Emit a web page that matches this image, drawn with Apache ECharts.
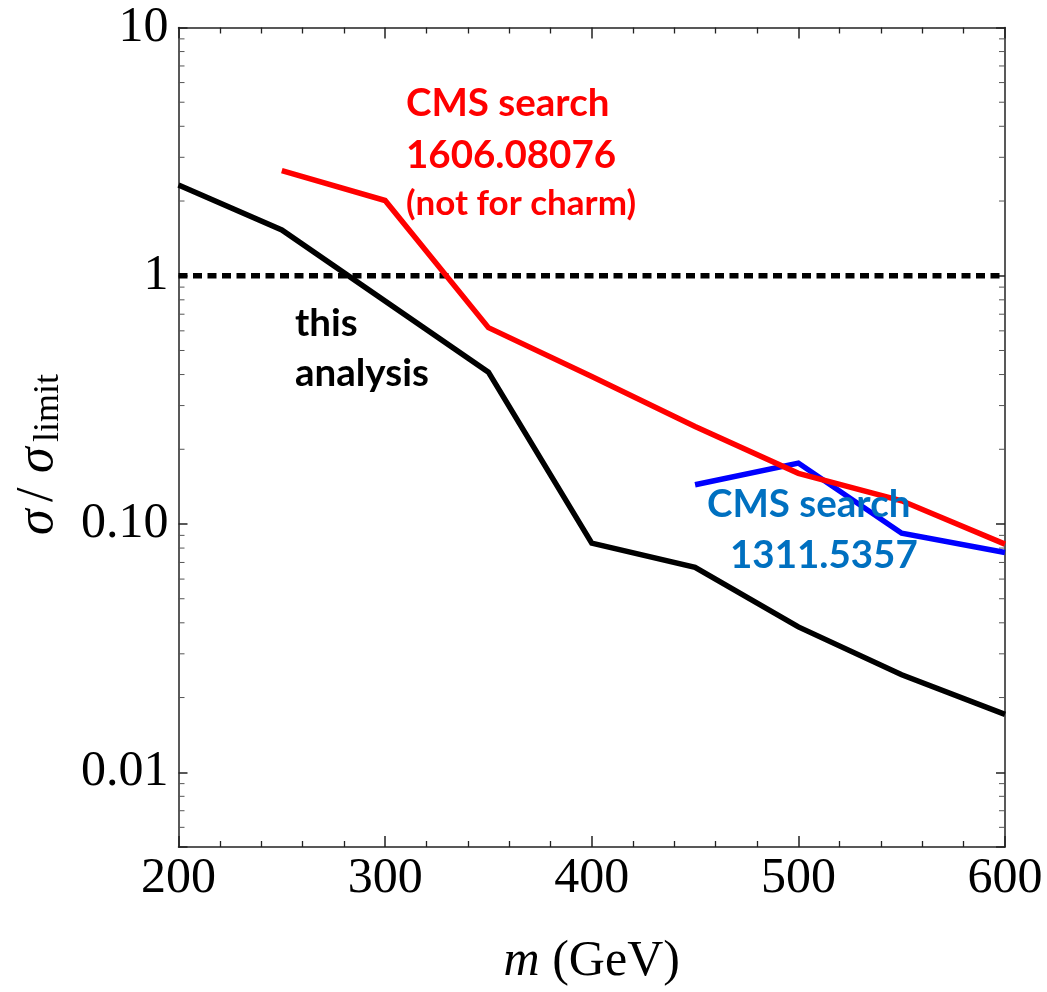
<!DOCTYPE html>
<html>
<head>
<meta charset="utf-8">
<script src="https://cdn.jsdelivr.net/npm/echarts@6/dist/echarts.min.js"></script>
<style>
  html, body { margin: 0; padding: 0; background: #fff; }
  #chart { width: 1047px; height: 992px; }
</style>
</head>
<body>
<div id="chart"></div>
<script>
// ---- data ----
const mThis = [200, 250, 350, 400, 450, 500, 550, 600];
const rThis = [2.32, 1.53, 0.409, 0.0837, 0.0669, 0.0385, 0.0247, 0.0171];

const mCms16 = [250, 300, 350, 400, 450, 500, 550, 600];
const rCms16 = [2.65, 2.01, 0.618, 0.393, 0.247, 0.160, 0.124, 0.083];

const mCms13 = [450, 500, 550, 600];
const rCms13 = [0.144, 0.176, 0.0918, 0.0768];

const mUnity = [200, 600];
const rUnity = [1, 1];

const xTicks = [200, 300, 400, 500, 600];
const yTickValues = [0.01, 0.1, 1, 10];
const yTickLabels = ['0.01', '0.10', '1', '10'];
const yMinorTicks = [0.006, 0.007, 0.008, 0.009,
  0.02, 0.03, 0.04, 0.05, 0.06, 0.07, 0.08, 0.09,
  0.2, 0.3, 0.4, 0.5, 0.6, 0.7, 0.8, 0.9,
  2, 3, 4, 5, 6, 7, 8, 9];
const xMin = 200, xMax = 600, yMin = 0.005, yMax = 10;

// ---- chart ----
const chart = echarts.init(document.getElementById('chart'), null, { renderer: 'canvas' });
const frame = '#222';
const serif = 'Liberation Serif';
const sans = 'Lato';

function zip(a, b) { return a.map((v, i) => [v, b[i]]); }

function yLabel(v) {
  const l = Math.log10(v);
  const r = Math.round(l);
  if (Math.abs(l - r) > 1e-6) return '';
  const idx = yTickValues.findIndex(t => Math.abs(Math.log10(t) - r) < 1e-6);
  return idx >= 0 ? yTickLabels[idx] : '';
}

const xAxisBase = {
  type: 'value', min: xMin, max: xMax, interval: 100,
  axisLine: { show: true, onZero: false, lineStyle: { color: frame, width: 1.5 } },
  axisTick: { show: true, inside: true, length: 11, lineStyle: { color: frame, width: 1.5 } },
  minorTick: { show: true, splitNumber: 5, length: 6, lineStyle: { color: frame, width: 1.3 } },
  splitLine: { show: false }
};
const yAxisBase = {
  type: 'log', logBase: 10, min: yMin, max: yMax,
  axisLine: { show: true, onZero: false, lineStyle: { color: frame, width: 1.5 } },
  axisTick: { show: true, inside: true, length: 9, lineStyle: { color: frame, width: 1.5 } },
  minorTick: { show: false },
  splitLine: { show: false }
};

function sideText(txt, x, y, size, italic) {
  return { type: 'text', x: x, y: y, rotation: Math.PI / 2,
    style: { text: txt, fontFamily: serif, fontSize: size, fontStyle: italic ? 'italic' : 'normal',
      fill: '#000', align: 'left', verticalAlign: 'middle' } };
}
function note(txt, x, y, size, color) {
  return { type: 'text', x: x, y: y, z: 10,
    style: { text: txt, fontFamily: sans, fontWeight: 'bold', fontSize: size, fill: color,
      align: 'left', verticalAlign: 'middle' } };
}

const option = {
  backgroundColor: '#fff',
  animation: false,
  grid: { left: 178.5, right: 42, top: 27.5, bottom: 138, containLabel: false },
  xAxis: [
    Object.assign({}, xAxisBase, {
      position: 'bottom',
      axisLabel: {
        fontFamily: serif, fontSize: 50, color: '#000', margin: 7,
        formatter: v => (xTicks.indexOf(v) >= 0 ? String(v) : '')
      },
      name: '{i|m} (GeV)', nameLocation: 'middle', nameGap: 90,
      nameTextStyle: {
        fontFamily: serif, fontSize: 50, color: '#000',
        rich: { i: { fontFamily: serif, fontStyle: 'italic', fontSize: 50, color: '#000' } }
      }
    }),
    Object.assign({}, xAxisBase, { position: 'top', axisLabel: { show: false } })
  ],
  yAxis: [
    Object.assign({}, yAxisBase, {
      position: 'left',
      axisLabel: { fontFamily: serif, fontSize: 50, color: '#000', margin: 10, formatter: yLabel, showMinLabel: true }
    }),
    Object.assign({}, yAxisBase, { position: 'right', axisLabel: { show: false } })
  ],
  graphic: [
    sideText('σ', 38, 535, 52, true),
    sideText('/', 38, 502, 52, false),
    sideText('σ', 38, 473, 52, true),
    sideText('limit', 49, 442, 36, false),

    note('CMS search', 406, 104, 38.5, '#ff0000'),
    note('1606.08076', 406, 156, 38.5, '#ff0000'),
    note('(not for charm)', 406, 204, 35, '#ff0000'),

    note('this', 295, 324, 38.5, '#000'),
    note('analysis', 295, 374, 38.5, '#000'),

    note('CMS search', 707, 505, 38.5, '#0070c0'),
    note('1311.5357', 730, 556, 38.5, '#0070c0')
  ],
  series: [
    {
      name: 'minor y ticks', type: 'custom', xAxisIndex: 0, yAxisIndex: 0, silent: true, clip: false,
      data: yMinorTicks.map(v => [xMin, v]),
      renderItem: function (params, api) {
        const v = api.value(1);
        const pL = api.coord([xMin, v]);
        const pR = api.coord([xMax, v]);
        const st = { stroke: '#555', lineWidth: 1 };
        return { type: 'group', children: [
          { type: 'line', shape: { x1: pL[0], y1: pL[1], x2: pL[0] + 6, y2: pL[1] }, style: st },
          { type: 'line', shape: { x1: pR[0] - 6, y1: pR[1], x2: pR[0], y2: pR[1] }, style: st }
        ] };
      }
    },
    {
      name: 'unity', type: 'line', xAxisIndex: 0, yAxisIndex: 0, data: zip(mUnity, rUnity),
      symbol: 'none', silent: true,
      lineStyle: { color: '#000', width: 5.5, type: [9, 5.5], cap: 'butt' }
    },
    {
      name: 'CMS 1311.5357', type: 'line', xAxisIndex: 0, yAxisIndex: 0, data: zip(mCms13, rCms13),
      symbol: 'none', silent: true,
      lineStyle: { color: '#0000ff', width: 5.5, join: 'miter', cap: 'butt' }
    },
    {
      name: 'CMS 1606.08076', type: 'line', xAxisIndex: 0, yAxisIndex: 0, data: zip(mCms16, rCms16),
      symbol: 'none', silent: true,
      lineStyle: { color: '#ff0000', width: 5.5, join: 'miter', cap: 'butt' }
    },
    {
      name: 'this analysis', type: 'line', xAxisIndex: 0, yAxisIndex: 0, data: zip(mThis, rThis),
      symbol: 'none', silent: true,
      lineStyle: { color: '#000', width: 5.5, join: 'miter', cap: 'butt' }
    }
  ]
};
chart.setOption(option);
</script>
</body>
</html>
